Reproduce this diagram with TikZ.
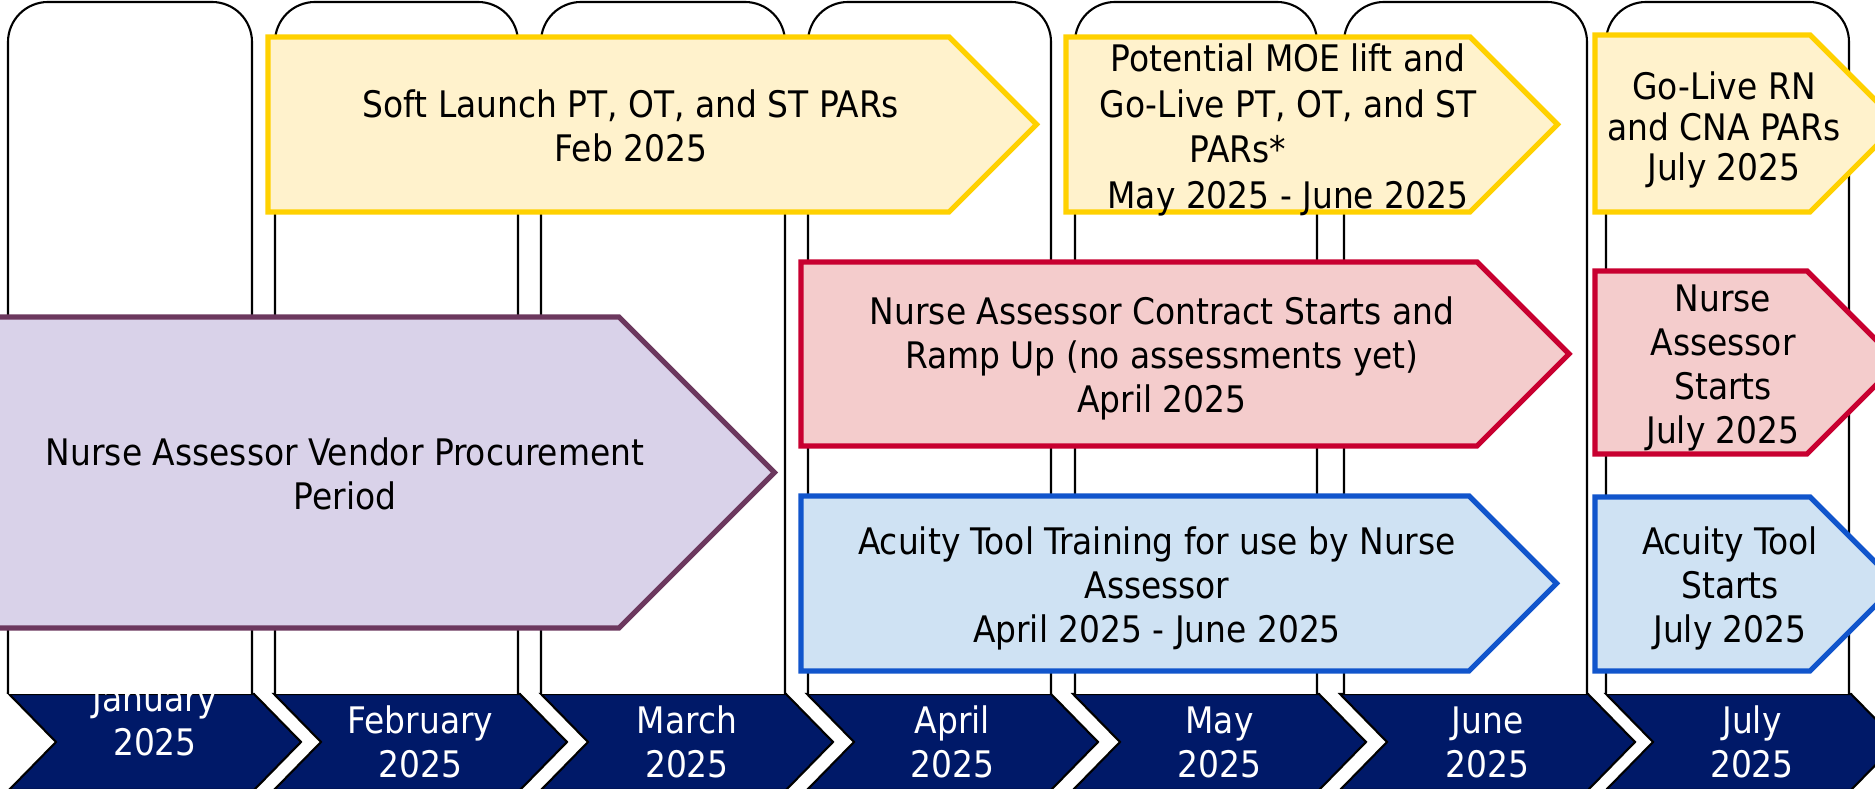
\documentclass[tikz,border=0pt]{standalone}
\usepackage{fontspec}
\setmainfont{DejaVu Sans Condensed}
\usepackage{xcolor}

\definecolor{navy}{RGB}{0,25,104}
\definecolor{goldline}{RGB}{255,209,0}
\definecolor{goldfill}{RGB}{255,242,204}
\definecolor{redline}{RGB}{200,0,48}
\definecolor{redfill}{RGB}{244,204,204}
\definecolor{blueline}{RGB}{17,85,204}
\definecolor{bluefill}{RGB}{207,226,243}
\definecolor{plumline}{RGB}{108,56,94}
\definecolor{plumfill}{RGB}{217,210,233}

% pentagon arrow: style, left, top, bottom, shoulder
\newcommand{\phasebox}[5]{%
  \pgfmathsetmacro{\tipx}{#5+(#4-#3)/2}
  \pgfmathsetmacro{\midy}{(#3+#4)/2}
  \draw[#1] (#2,#3) -- (#5,#3) -- (\tipx,\midy) -- (#5,#4) -- (#2,#4) -- cycle;
}

\begin{document}
\begin{tikzpicture}[x=0.01cm, y=-0.01cm,
  txt/.style={align=center, inner sep=0pt, font=\fontsize{10.4}{12.5}\selectfont},
  month/.style={txt, text=white},
  chev/.style={draw=black, line width=0.6pt, fill=navy},
  col/.style={draw=black, line width=0.6pt, fill=white, rounded corners=0.4cm},
  gold/.style={draw=goldline, fill=goldfill, line width=1.5pt},
  crimson/.style={draw=redline, fill=redfill, line width=1.5pt},
  sky/.style={draw=blueline, fill=bluefill, line width=1.5pt},
  plum/.style={draw=plumline, fill=plumfill, line width=1.5pt}]
\useasboundingbox (0,0) rectangle (1875,789);
\clip (0,0) rectangle (1875,789);

% month chevrons along the bottom
\foreach \l/\r/\m/\dy [count=\i] in {9/254/January/-22, 274/520/February/0,
    541/786/March/0, 807/1051/April/0, 1073/1319/May/0, 1340/1588/June/0,
    1606/1851/July/0} {
  \draw[chev] (\l,694) -- (\r,694) -- (\r+47,742) -- (\r,790) -- (\l,790)
    -- (\l+47,742) -- cycle;
  \node[month] (m\i) at ({(\l+\r+47)/2},{742+\dy}) {\m\\2025};
}

% month columns
\foreach \l/\r in {8/252, 275/518, 541/785, 808/1051, 1075/1317, 1344/1587, 1606/1849}
  \draw[col] (\l,694) -- (\l,2) -- (\r,2) -- (\r,694);

% phases
\phasebox{plum}{-20}{317}{628}{619}
\phasebox{gold}{268}{37}{212}{949}
\phasebox{gold}{1066}{37}{212}{1470}
\phasebox{gold}{1595}{35}{212}{1810}
\phasebox{crimson}{801}{262}{446}{1477}
\phasebox{crimson}{1595}{271}{454}{1807}
\phasebox{sky}{801}{496}{671}{1469}
\phasebox{sky}{1595}{497}{671}{1810}

% labels
\node[txt] (procure) at (345,474) {Nurse Assessor Vendor Procurement\\Period};
\node[txt] (soft) at (631,126) {Soft Launch PT, OT, and ST PARs\\Feb 2025};
\node[txt, font=\fontsize{10.4}{13}\selectfont] (golivept) at (1288,130)
  {Potential MOE lift and\\Go-Live PT, OT, and ST\\PARs*\makebox[1cm]{}\\May 2025 - June 2025};
\node[txt, font=\fontsize{10.4}{11.4}\selectfont] (golivern) at (1724,130)
  {Go-Live RN\\and CNA PARs\\July 2025};
\node[txt] (contract) at (1162,358) {Nurse Assessor Contract Starts and\\Ramp Up (no assessments yet)\\April 2025};
\node[txt] (nastart) at (1723,368) {Nurse\\Assessor\\Starts\\July 2025};
\node[txt] (training) at (1157,588) {Acuity Tool Training for use by Nurse\\Assessor\\April 2025 - June 2025};
\node[txt] (acuity) at (1730,588) {Acuity Tool\\Starts\\July 2025};
\end{tikzpicture}
\end{document}
